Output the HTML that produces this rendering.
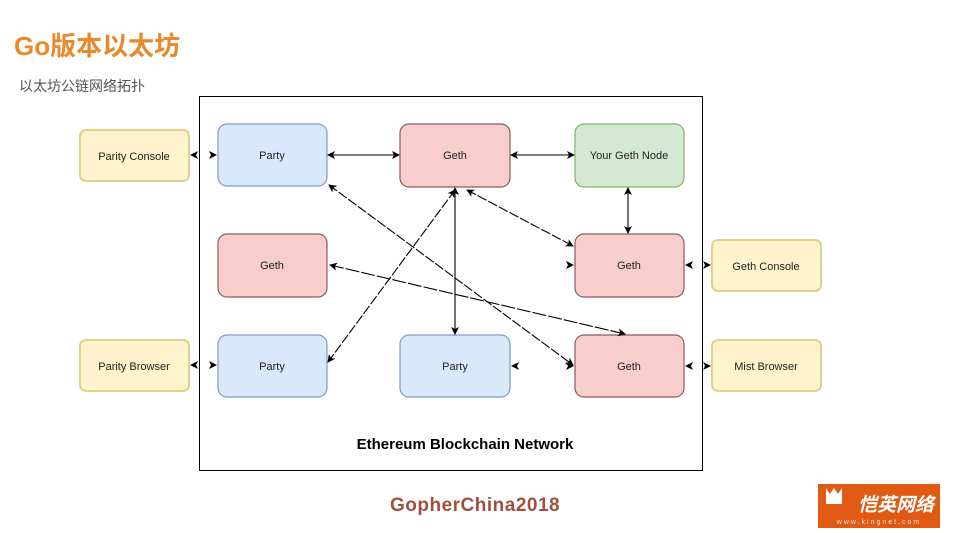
<!DOCTYPE html>
<html><head><meta charset="utf-8"><style>
body{margin:0;width:967px;height:533px;background:#fff;overflow:hidden;position:relative;font-family:"Liberation Sans","Noto Sans CJK SC",sans-serif}
.t{position:absolute;left:14px;top:26px;font-size:26px;font-weight:bold;color:#e8892b}
.s{position:absolute;left:19px;top:76px;font-size:14px;color:#555}
</style></head><body>
<div class="t">Go版本以太坊</div>
<div class="s">以太坊公链网络拓扑</div>
<svg width="967" height="533" style="position:absolute;left:0;top:0" font-family="Liberation Sans, sans-serif">
<defs><marker id="a" markerWidth="8" markerHeight="8" refX="7" refY="4" orient="auto-start-reverse" markerUnits="userSpaceOnUse"><path d="M0,0 L8,4 L0,8 L2,4z" fill="#000"/></marker></defs>
<rect x="199.5" y="96.5" width="503" height="374" fill="none" stroke="#000" stroke-width="1"/>
<g font-size="11" text-anchor="middle" fill="#222">
<g stroke-width="1.2">
<rect x="218" y="124" width="109" height="62" rx="9" fill="#dae8fc" stroke="#7c9cc8"/>
<rect x="400" y="124" width="110" height="63" rx="9" fill="#f8cecc" stroke="#8e5a58"/>
<rect x="575" y="124" width="109" height="63" rx="9" fill="#d5e8d4" stroke="#82b366"/>
<rect x="218" y="234" width="109" height="63" rx="9" fill="#f8cecc" stroke="#8e5a58"/>
<rect x="575" y="234" width="109" height="63" rx="9" fill="#f8cecc" stroke="#8e5a58"/>
<rect x="218" y="335" width="109" height="62" rx="9" fill="#dae8fc" stroke="#7c9cc8"/>
<rect x="400" y="335" width="110" height="62" rx="9" fill="#dae8fc" stroke="#7c9cc8"/>
<rect x="575" y="335" width="109" height="62" rx="9" fill="#f8cecc" stroke="#8e5a58"/>
<rect x="80" y="130" width="109" height="51" rx="6" fill="#fff2cc" stroke="#e3cf8a" stroke-width="2"/>
<rect x="712" y="240" width="109" height="51" rx="6" fill="#fff2cc" stroke="#e3cf8a" stroke-width="2"/>
<rect x="80" y="340" width="109" height="51" rx="6" fill="#fff2cc" stroke="#e3cf8a" stroke-width="2"/>
<rect x="712" y="340" width="109" height="51" rx="6" fill="#fff2cc" stroke="#e3cf8a" stroke-width="2"/>
</g>
<text x="272" y="159">Party</text><text x="455" y="159">Geth</text><text x="629" y="159">Your Geth Node</text>
<text x="272" y="269">Geth</text><text x="629" y="269">Geth</text>
<text x="272" y="370">Party</text><text x="455" y="370">Party</text><text x="629" y="370">Geth</text>
<text x="134" y="160">Parity Console</text><text x="766" y="270">Geth Console</text>
<text x="134" y="370">Parity Browser</text><text x="766" y="370">Mist Browser</text>
</g>
<g stroke="#000" stroke-width="1.1" fill="none" marker-start="url(#a)" marker-end="url(#a)">
<line x1="328" y1="155" x2="399" y2="155"/>
<line x1="511" y1="155" x2="574" y2="155"/>
<line x1="628" y1="188" x2="628" y2="233"/>
<line x1="455" y1="188" x2="455" y2="334"/>
<line x1="467" y1="190" x2="573" y2="246" stroke-dasharray="10 2"/>
<line x1="455" y1="190" x2="328" y2="362" stroke-dasharray="10 2"/>
<line x1="329" y1="185" x2="573" y2="365" stroke-dasharray="10 2"/>
<line x1="330" y1="265" x2="625" y2="334" stroke-dasharray="14 2"/>
</g>
<g fill="#000">
<path d="M190,155 l8,-4 l-2,4 l2,4z"/><path d="M217,155 l-8,-4 l2,4 l-2,4z"/>
<path d="M574,265 l-8,-4 l2,4 l-2,4z"/>
<path d="M685,265 l8,-4 l-2,4 l2,4z"/><path d="M711,265 l-8,-4 l2,4 l-2,4z"/>
<path d="M190,365 l8,-4 l-2,4 l2,4z"/><path d="M217,365 l-8,-4 l2,4 l-2,4z"/>
<path d="M511,366 l8,-4 l-2,4 l2,4z"/><path d="M574,366 l-8,-4 l2,4 l-2,4z"/>
<path d="M685,366 l8,-4 l-2,4 l2,4z"/><path d="M711,366 l-8,-4 l2,4 l-2,4z"/>
</g>
<text x="465" y="449" font-size="15" font-weight="bold" text-anchor="middle">Ethereum Blockchain Network</text>
<text x="390" y="511" font-size="19" font-weight="bold" fill="#a0503a" letter-spacing="0.5">GopherChina2018</text>
<rect x="818" y="484" width="122" height="44" fill="#e05a14"/>
<text x="896" y="511" font-size="19" font-weight="bold" font-style="italic" fill="#fff" text-anchor="middle" font-family="Noto Sans CJK SC, sans-serif">恺英网络</text>
<text x="879" y="524" font-size="7" fill="#fde" text-anchor="middle" letter-spacing="2">www.kingnet.com</text>
<path d="M826,488 l4,6 l4,-6 l4,6 l4,-6 v16 h-16z" fill="#fff"/>
</svg>
</body></html>
